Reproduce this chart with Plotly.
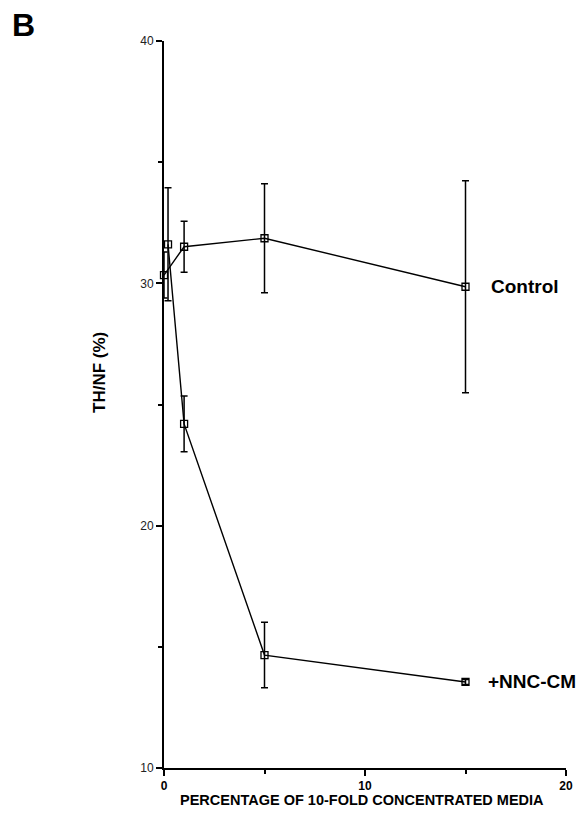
import plotly.graph_objects as go

# Data
x_control = [0, 1, 5, 15]
control = [30.34, 31.51, 31.86, 29.86]
control_err = [0.95, 1.05, 2.25, 4.37]

x_nnc = [0.2, 1, 5, 15]
nnc = [31.61, 24.2, 14.66, 13.55]
nnc_err = [2.33, 1.15, 1.35, 0.1]

series_labels = ["Control", "+NNC-CM"]
x_ticks = [0, 10, 20]
y_ticks = [10, 20, 30, 40]

FONT = "Liberation Sans, Arial, Helvetica, sans-serif"

W, H = 579, 825
L, T, R, B = 164, 41, 13, 57
PW = W - L - R
PH = H - T - B


def px_x(p):
    return (p - L) / PW


def px_y(p):
    return ((H - B) - p) / PH


fig = go.Figure()

for xs, ys, errs, name in [(x_control, control, control_err, series_labels[0]),
                           (x_nnc, nnc, nnc_err, series_labels[1])]:
    fig.add_trace(go.Scatter(
        x=xs, y=ys, name=name, mode="lines+markers",
        line=dict(color="black", width=1.4),
        marker=dict(symbol="square-open", size=7, color="black",
                    line=dict(color="black", width=1.3)),
        error_y=dict(type="data", array=errs, visible=True,
                     color="black", thickness=1.5, width=3.5),
        showlegend=False,
        cliponaxis=False,
    ))

# series labels at end of lines
fig.add_annotation(x=px_x(489), y=control[-1], xref="paper", text="<b>Control</b>",
                   showarrow=False, xanchor="left", yanchor="middle",
                   font=dict(family=FONT, size=19, color="black"))
fig.add_annotation(x=px_x(486), y=nnc[-1], xref="paper", text="<b>+NNC-CM</b>",
                   showarrow=False, xanchor="left", yanchor="middle",
                   font=dict(family=FONT, size=19, color="black"))

# panel letter
fig.add_annotation(x=px_x(10), y=px_y(24.5), xref="paper", yref="paper", text="<b>B</b>",
                   showarrow=False, xanchor="left", yanchor="middle",
                   font=dict(family=FONT, size=32, color="black"))

fig.add_annotation(x=px_x(362), y=px_y(800), xref="paper", yref="paper",
                   text="<b>PERCENTAGE OF 10-FOLD CONCENTRATED MEDIA</b>",
                   showarrow=False, xanchor="center", yanchor="middle",
                   font=dict(family=FONT, size=14.5, color="black"))
fig.add_annotation(x=px_x(99), y=px_y(373), xref="paper", yref="paper",
                   text="<b>TH/NF (%)</b>",
                   showarrow=False, textangle=-90, xanchor="center", yanchor="middle",
                   font=dict(family=FONT, size=17, color="black"))

fig.update_layout(
    width=W, height=H, autosize=False,
    margin=dict(l=L, r=R, t=T, b=B, pad=0, autoexpand=False),
    paper_bgcolor="white", plot_bgcolor="white",
    font=dict(family=FONT, color="black"),
)

fig.update_xaxes(
    range=[0, 20], tickvals=x_ticks, ticktext=[str(v) for v in x_ticks],
    showline=True, linecolor="black", linewidth=2, mirror=False, automargin=False,
    ticks="outside", ticklen=6, tickwidth=2, tickcolor="black",
    minor=dict(dtick=5, ticks="outside", ticklen=4, tickwidth=2, tickcolor="black"),
    showgrid=False, zeroline=False,
    tickfont=dict(family=FONT, size=12, color="black", weight="bold"),
)
fig.update_yaxes(
    range=[10, 40], tickvals=y_ticks, ticktext=[str(v) for v in y_ticks],
    showline=True, linecolor="black", linewidth=2, mirror=False, automargin=False,
    ticks="outside", ticklen=6, tickwidth=1.5, tickcolor="black",
    minor=dict(dtick=5, ticks="outside", ticklen=4, tickwidth=1.5, tickcolor="black"),
    showgrid=False, zeroline=False,
    tickfont=dict(family=FONT, size=12, color="#222"),
)

fig.write_html("out.html", config={"responsive": False, "displayModeBar": False},
               post_script="document.body.style.margin='0';document.body.style.overflow='hidden';")
